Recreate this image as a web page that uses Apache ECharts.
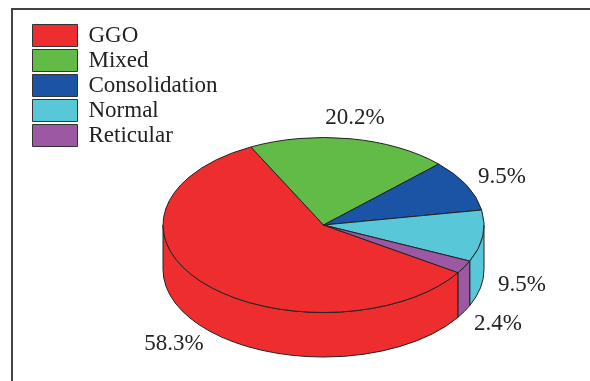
<!DOCTYPE html>
<html>
<head>
<meta charset="utf-8">
<style>html,body{margin:0;padding:0;background:#fff}#chart{width:590px;height:381px}</style>
<script src="https://cdn.jsdelivr.net/npm/echarts@6/dist/echarts.min.js"></script>
</head>
<body>
<div id="chart"></div>
<script>
// Lung CT pattern shares, drawn clockwise as a tilted disc
const categories = ['GGO', 'Mixed', 'Consolidation', 'Normal', 'Reticular'];
const shares = [58.3, 20.2, 9.5, 9.5, 2.4];
const colors = ['#EE2E2E', '#62BB47', '#1C54A5', '#58C8D8', '#9C58A3'];
const labelAnchors = [[174, 344], [355, 118], [502, 177], [522, 285], [498, 324]];

const disc = { cx: 323.5, cy: 225, rx: 160.5, ry: 87.5, depth: 44.5, startDeg: -33 };
const ink = '#222';
const font = '"Liberation Serif", serif';
const total = shares.reduce((a, b) => a + b, 0);

function point(deg, dy) {
  const r = deg * Math.PI / 180;
  return [disc.cx + disc.rx * Math.cos(r), disc.cy - disc.ry * Math.sin(r) + (dy || 0)];
}
// Elliptical arc path, sweeping clockwise on screen when the angle falls
function arcTo(from, to, dy) {
  const p = point(to, dy);
  const large = Math.abs(to - from) > 180 ? 1 : 0;
  const sweep = to < from ? 1 : 0;
  return `A${disc.rx} ${disc.ry} 0 ${large} ${sweep} ${p[0]} ${p[1]}`;
}
function topPath(a0, a1) {
  const s = point(a0);
  return `M${disc.cx} ${disc.cy}L${s[0]} ${s[1]}${arcTo(a0, a1)}Z`;
}
function wallPath(a0, a1) {
  const s = point(a0);
  const e = point(a1, disc.depth);
  return `M${s[0]} ${s[1]}${arcTo(a0, a1)}L${e[0]} ${e[1]}${arcTo(a1, a0, disc.depth)}Z`;
}
// Portion of a slice [a1, a0] (a0 > a1) facing the viewer, where the sine is negative
function frontSpan(a0, a1) {
  for (let k = -1; k <= 1; k++) {
    const hi = Math.min(a0, 360 * k);
    const lo = Math.max(a1, 360 * k - 180);
    if (hi > lo) return [hi, lo];
  }
  return null;
}

function sliceAngles(index) {
  let before = 0;
  for (let i = 0; i < index; i++) before += shares[i];
  // GGO begins at startDeg and the rest follow clockwise
  const a0 = disc.startDeg - before / total * 360;
  return [a0, a0 - shares[index] / total * 360];
}

function renderSlice(index) {
  return function (params, api) {
    const [a0, a1] = sliceAngles(index);
    const line = { stroke: ink, lineWidth: 1, fill: colors[index], lineJoin: 'round' };
    const children = [];
    const span = frontSpan(a0, a1);
    if (span) {
      children.push({
        type: 'path', z2: 1,
        shape: { pathData: wallPath(span[0], span[1]) },
        style: line
      });
    }
    children.push({
      type: 'path', z2: 2,
      shape: { pathData: topPath(a0, a1) },
      style: line
    });
    children.push({
      type: 'text', z2: 3,
      x: labelAnchors[index][0], y: labelAnchors[index][1],
      style: {
        text: api.value(0).toFixed(1) + '%',
        font: '23px ' + font, fill: ink,
        textAlign: 'center', textVerticalAlign: 'middle'
      }
    });
    return { type: 'group', children };
  };
}

const chart = echarts.init(document.getElementById('chart'), null, { renderer: 'canvas' });
chart.setOption({
  animation: false,
  backgroundColor: '#fff',
  legend: {
    left: 32, top: 24, orient: 'vertical',
    padding: 0,
    data: categories,
    icon: 'rect',
    itemWidth: 45, itemHeight: 22, itemGap: 2,
    selectedMode: false,
    itemStyle: { borderColor: '#333', borderWidth: 1 },
    textStyle: { fontFamily: font, fontSize: 23, lineHeight: 22, color: ink, padding: [0, 0, 0, 6] }
  },
  graphic: [{
    type: 'polyline',
    shape: { points: [[12, 381], [12, 9], [590, 9]] },
    style: { stroke: '#444', lineWidth: 2, fill: null }
  }],
  series: categories.map((name, i) => ({
    type: 'custom',
    name,
    coordinateSystem: 'none',
    itemStyle: { color: colors[i] },
    data: [[shares[i]]],
    renderItem: renderSlice(i)
  }))
});
</script>
</body>
</html>
